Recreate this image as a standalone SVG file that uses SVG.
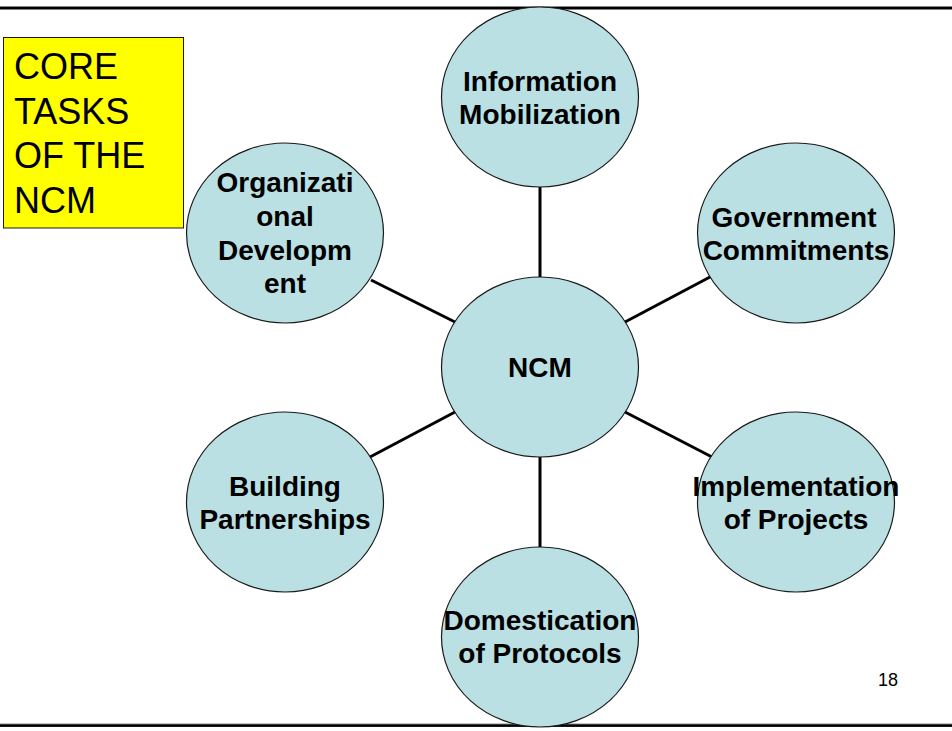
<svg xmlns="http://www.w3.org/2000/svg" width="952" height="731" viewBox="0 0 952 731">
<style>
.node ellipse{fill:#BAE0E3;stroke:#1a1a1a;stroke-width:1.2}
.lbl{font-family:"Liberation Sans",Arial,sans-serif;font-weight:bold;font-size:28px;fill:#000;text-anchor:middle}
.conn line{stroke:#000;stroke-width:3}
.title{font-family:"Liberation Sans",Arial,sans-serif;font-size:36px;fill:#000}
</style>
<rect x="0" y="0" width="952" height="731" fill="#fff"/>
<g id="borders">
<rect x="0" y="6" width="952" height="1" fill="#888"/>
<rect x="0" y="7" width="952" height="2.5" fill="#000"/>
<rect x="0" y="723.5" width="952" height="1" fill="#888"/>
<rect x="0" y="724.3" width="952" height="2.6" fill="#000"/>
</g>
<g id="connectors" class="conn">
<line x1="540" y1="187" x2="540" y2="278"/>
<line x1="540" y1="457" x2="540" y2="548"/>
<line x1="625" y1="322" x2="710" y2="277"/>
<line x1="371" y1="280" x2="455" y2="322"/>
<line x1="370" y1="457" x2="455" y2="412"/>
<line x1="625" y1="412" x2="712" y2="457"/>
</g>
<g id="title-box">
<rect x="3.5" y="37.5" width="180" height="190.5" fill="#FFFF00" stroke="#1a1a1a" stroke-width="1"/>
<text class="title" x="14" y="79">CORE</text>
<text class="title" x="14" y="123.5">TASKS</text>
<text class="title" x="14" y="168">OF THE</text>
<text class="title" x="14" y="212.5">NCM</text>
</g>
<g id="node-info" class="node">
<ellipse cx="540" cy="97" rx="98.5" ry="90"/>
<text class="lbl" x="540" y="91">Information</text>
<text class="lbl" x="540" y="124">Mobilization</text>
</g>
<g id="node-gov" class="node">
<ellipse cx="796" cy="233" rx="98.5" ry="90"/>
<text class="lbl" x="794" y="227">Government</text>
<text class="lbl" x="796" y="260">Commitments</text>
</g>
<g id="node-org" class="node">
<ellipse cx="285" cy="233" rx="98.5" ry="90"/>
<text class="lbl" x="285" y="192">Organizati</text>
<text class="lbl" x="285" y="226">onal</text>
<text class="lbl" x="285" y="260">Developm</text>
<text class="lbl" x="285" y="293">ent</text>
</g>
<g id="node-ncm" class="node">
<ellipse cx="540" cy="367" rx="98.5" ry="90"/>
<text class="lbl" x="540" y="377">NCM</text>
</g>
<g id="node-build" class="node">
<ellipse cx="285" cy="502" rx="98.5" ry="90"/>
<text class="lbl" x="285" y="496">Building</text>
<text class="lbl" x="285" y="529">Partnerships</text>
</g>
<g id="node-impl" class="node">
<ellipse cx="796" cy="502" rx="98.5" ry="90"/>
<text class="lbl" x="796" y="496">Implementation</text>
<text class="lbl" x="796" y="529">of Projects</text>
</g>
<g id="node-dom" class="node">
<ellipse cx="540" cy="637" rx="98.5" ry="90"/>
<text class="lbl" x="540" y="630">Domestication</text>
<text class="lbl" x="540" y="663">of Protocols</text>
</g>
<text x="898" y="686" font-family="'Liberation Sans',Arial,sans-serif" font-size="18" text-anchor="end" fill="#000">18</text>
</svg>
